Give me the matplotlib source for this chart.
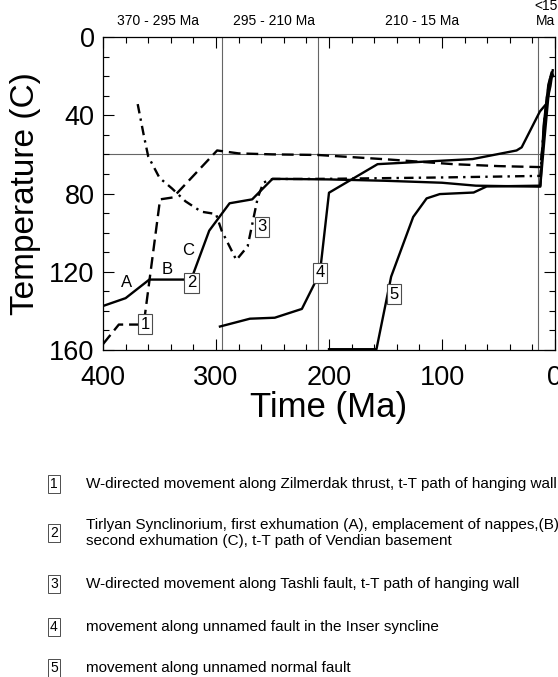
import numpy as np
import matplotlib.pyplot as plt
from matplotlib.ticker import MultipleLocator

plt.rcParams['font.family'] = ['Liberation Sans', 'DejaVu Sans']

# t-T paths (time in Ma, temperature in C)
path1_t = [400, 386, 364, 349.5, 338, 299, 280, 250, 210, 150, 90, 50, 13, 10, 7, 4, 2]
path1_T = [157, 147, 147, 83, 82, 58, 59.5, 60, 60.3, 62.5, 65, 66, 66.5, 50, 30, 20, 19]

path2_t = [400, 380, 359, 322, 306, 297, 288, 268, 250, 200, 150, 100, 70, 13, 10, 6, 3, 1.5]
path2_T = [137.5, 133.5, 124, 124, 99, 92, 85, 83, 72.5, 72.8, 73.5, 74.5, 76, 76.5, 45, 25, 18, 20]

path3_t = [369.3, 364, 360, 350, 339, 327, 313, 300, 295, 282, 272, 263, 258, 250, 200, 100, 13, 9, 5, 2]
path3_T = [34.3, 50, 61, 72, 77.4, 84, 89.3, 90.5, 99, 114, 107, 82, 74.4, 72.6, 72.5, 71.8, 71, 40, 22, 18]

path4_t = [296.5, 270, 248, 224, 208, 200, 157, 73, 34, 29.5, 13.3, 7.4, 4, 2]
path4_T = [148, 144, 143.5, 139, 120.5, 79.6, 65, 62.4, 58, 56.4, 38, 34, 25, 17]

path5_t = [200, 158, 145, 125.5, 113.6, 102, 72, 60.5, 13, 9, 5, 3]
path5_T = [159.6, 159.6, 122.5, 92, 82.5, 80.3, 79.5, 76.4, 76, 50, 25, 20]

# numbered tags on the paths
tag_names = ['1', '2', '3', '4', '5']
tag_t = [362.8, 321.8, 259.6, 208, 142.5]
tag_T = [146.8, 125.5, 97, 120.5, 131.5]

# letters on path 2
letters = ['A', 'B', 'C']
letter_t = [379, 343.6, 325]
letter_T = [125.5, 119, 109]

# period boundaries
bounds = [295, 210, 15]
period_names = ['370 - 295 Ma', '295 - 210 Ma', '210 - 15 Ma', '<15\nMa']
period_t = [351, 249, 118, 8]

legend_texts = [
    'W-directed movement along Zilmerdak thrust, t-T path of hanging wall',
    'Tirlyan Synclinorium, first exhumation (A), emplacement of nappes,(B)\nsecond exhumation (C), t-T path of Vendian basement',
    'W-directed movement along Tashli fault, t-T path of hanging wall',
    'movement along unnamed fault in the Inser syncline',
    'movement along unnamed normal fault',
]

fig = plt.figure(figsize=(5.58, 6.77), dpi=100)
ax = fig.add_axes([103 / 558, 1 - 350 / 677, 452 / 558, 313 / 677])

for b in bounds:
    ax.axvline(b, color='0.4', lw=0.8, zorder=1)
ax.axhline(60, color='0.4', lw=0.8, zorder=1)

lw = 1.7
ax.plot(path1_t, path1_T, color='black', lw=lw, ls=(0, (5, 2.5)), zorder=3)
ax.plot(path2_t, path2_T, color='black', lw=lw, zorder=3)
ax.plot(path3_t, path3_T, color='black', lw=lw, ls=(0, (4, 2.2, 1, 2.2)), zorder=3)
ax.plot(path4_t, path4_T, color='black', lw=lw, zorder=3)
ax.plot(path5_t, path5_T, color='black', lw=lw, zorder=3)

for name, t, T in zip(tag_names, tag_t, tag_T):
    ax.text(t, T, name, ha='center', va='center', fontsize=12, zorder=5,
            bbox=dict(boxstyle='square,pad=0.15', fc='white', ec='0.3', lw=0.8))
for name, t, T in zip(letters, letter_t, letter_T):
    ax.text(t, T, name, ha='center', va='center', fontsize=12, zorder=5)

for name, t in zip(period_names, period_t):
    ax.text(t, 1.03, name, transform=ax.get_xaxis_transform(), ha='center',
            va='bottom', fontsize=10, linespacing=1.1)

ax.set_xlim(400, 0)
ax.set_ylim(160, 0)
ax.xaxis.set_major_locator(MultipleLocator(100))
ax.xaxis.set_minor_locator(MultipleLocator(20))
ax.yaxis.set_major_locator(MultipleLocator(40))
ax.yaxis.set_minor_locator(MultipleLocator(10))
ax.tick_params(which='both', direction='in', top=True, right=True, labelsize=19.5, width=0.8)
ax.tick_params(which='major', length=8)
ax.tick_params(which='minor', length=4)
ax.tick_params(axis='x', which='major', pad=11)
ax.tick_params(axis='y', which='major', pad=6)
for s in ax.spines.values():
    s.set_linewidth(0.9)

ax.set_xlabel('Time (Ma)', fontsize=25, labelpad=0)
ax.set_ylabel('Temperature (C)', fontsize=24, labelpad=6)

# legend of the numbered paths
rows_y = [484, 533, 584, 627, 668]
for name, text, py in zip(tag_names, legend_texts, rows_y):
    fig.text(54 / 558, 1 - py / 677, name, ha='center', va='center', fontsize=10,
             bbox=dict(boxstyle='square,pad=0.15', fc='white', ec='0.3', lw=0.7))
    fig.text(86 / 558, 1 - py / 677, text, ha='left', va='center', fontsize=11, linespacing=1.15)

fig.savefig('out.png', dpi=100)
